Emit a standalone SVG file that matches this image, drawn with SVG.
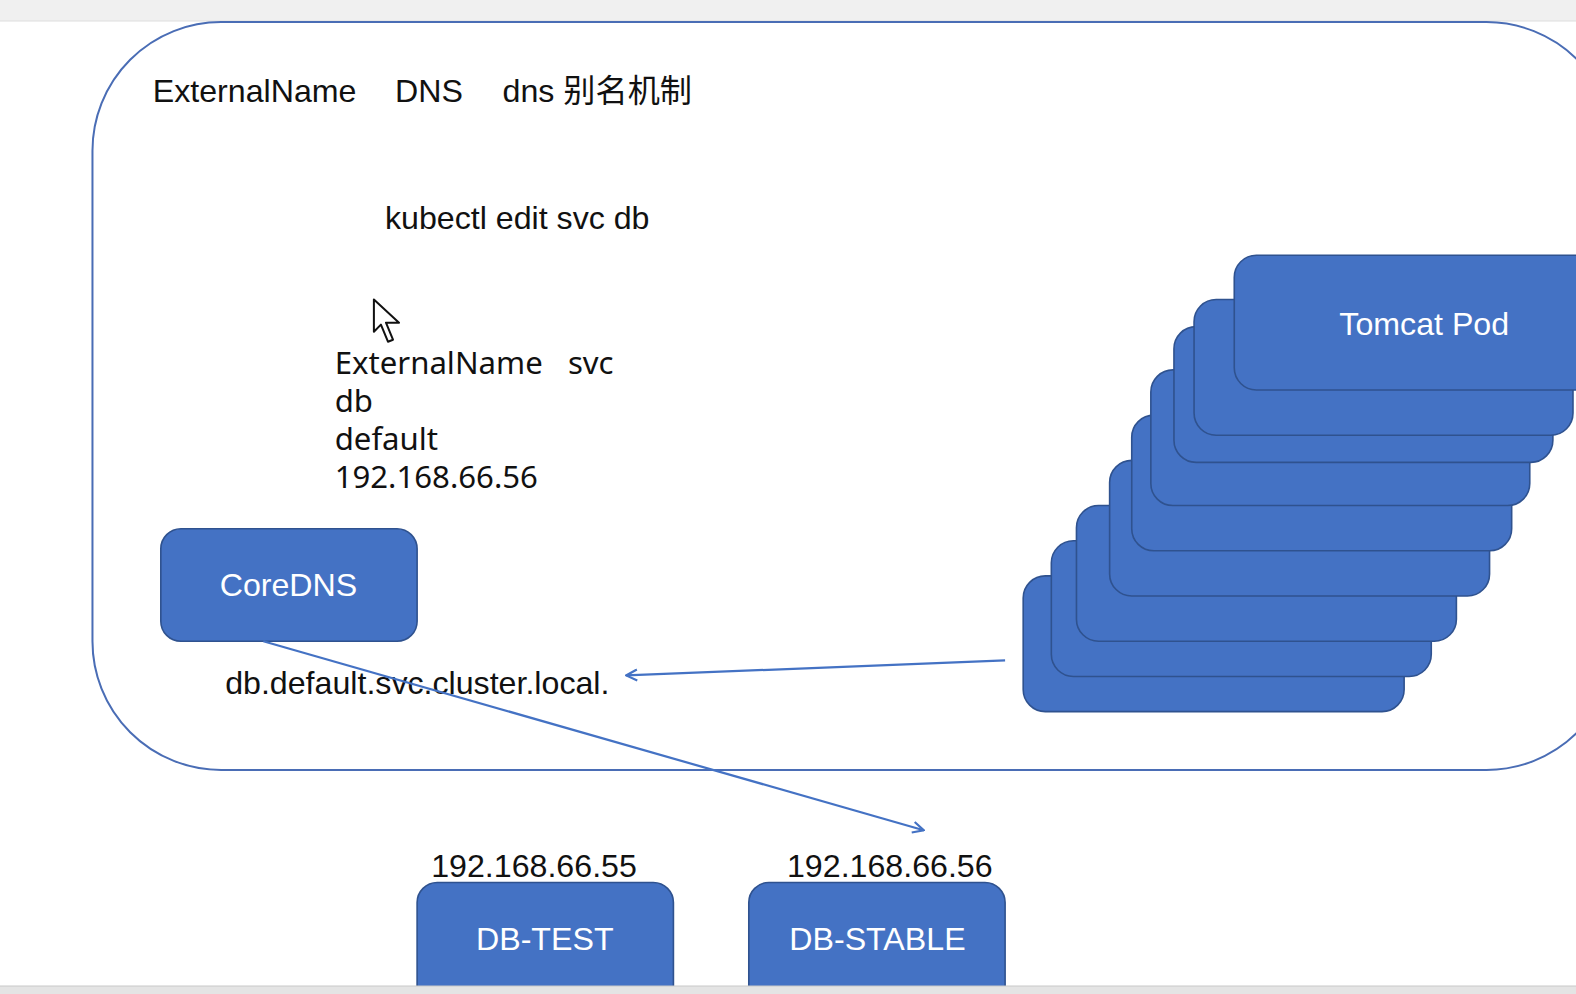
<svg xmlns="http://www.w3.org/2000/svg" width="1576" height="994" viewBox="0 0 1576 994">
<defs>
<style>
.t{font-family:"Liberation Sans",Arial,"Noto Sans CJK SC",sans-serif;font-size:32px;fill:#111}
.h{font-family:"Noto Sans","Noto Sans CJK SC",sans-serif;font-size:31px;fill:#111}
.w{font-family:"Liberation Sans",Arial,sans-serif;font-size:32px;fill:#fff;text-anchor:middle}
.box{fill:#4472C4;stroke:#2F528F;stroke-width:1.6}
.conn{fill:none;stroke:#4472C4;stroke-width:2.2}
</style>
<marker id="arr" viewBox="0 0 12 12" refX="11" refY="6" markerWidth="13" markerHeight="13" markerUnits="userSpaceOnUse" orient="auto">
<path d="M1,1 L11,6 L1,11" fill="none" stroke="#4472C4" stroke-width="2"/>
</marker>
</defs>
<rect x="0" y="0" width="1576" height="994" fill="#fff"/>
<rect x="0" y="0" width="1576" height="21" fill="#f0f0f0"/>
<line x1="0" y1="21" x2="1576" y2="21" stroke="#dedede" stroke-width="1"/>
<g transform="scale(1.0051)">
<g id="cluster">
<rect x="92" y="22" width="1515" height="744" rx="128" ry="128" fill="none" stroke="#4A6DB5" stroke-width="2"/>
</g>
<g id="titles">
<text class="t" x="152" y="101">ExternalName</text>
<text class="t" x="393" y="101">DNS</text>
<text class="t" x="500" y="101">dns 别名机制</text>
<text class="t" x="383" y="228">kubectl edit svc db</text>
</g>
<g id="notes">
<text class="h" x="333" y="372">ExternalName</text>
<text class="h" x="565" y="372">svc</text>
<text class="h" x="333" y="410">db</text>
<text class="h" x="333" y="448">default</text>
<text class="h" x="333" y="486">192.168.66.56</text>
</g>
<g id="cursor">
<path d="M372,298 L372,330 L379,323 L386,340 L391,338 L384,321 L397,321 Z" fill="#fff" stroke="#111" stroke-width="2" stroke-linejoin="round"/>
</g>
<g id="tomcat-pods">
<rect class="box" x="1018" y="573" width="379" height="135" rx="22"/>
<rect class="box" x="1046" y="538" width="378" height="135" rx="22"/>
<rect class="box" x="1071" y="503" width="378" height="135" rx="22"/>
<rect class="box" x="1104" y="458" width="378" height="135" rx="22"/>
<rect class="box" x="1126" y="413" width="378" height="135" rx="22"/>
<rect class="box" x="1145" y="368" width="377" height="135" rx="22"/>
<rect class="box" x="1168" y="325" width="377" height="135" rx="22"/>
<rect class="box" x="1188" y="298" width="377" height="135" rx="22"/>
<rect class="box" x="1228" y="254" width="378" height="134" rx="22"/>
<text class="w" x="1417" y="333">Tomcat Pod</text>
</g>
<g id="coredns">
<rect class="box" x="160" y="526" width="255" height="112" rx="20"/>
<text class="w" x="287" y="593">CoreDNS</text>
</g>
<g id="dns-name">
<text class="t" x="224" y="690">db.default.svc.cluster.local.</text>
</g>
<g id="connectors">
<line class="conn" x1="1000" y1="657" x2="623" y2="672" marker-end="url(#arr)"/>
<line class="conn" x1="262" y1="638" x2="919" y2="826" marker-end="url(#arr)"/>
</g>
<g id="db-test">
<text class="t" x="429" y="873">192.168.66.55</text>
<rect class="box" x="415" y="878" width="255" height="130" rx="20"/>
<text class="w" x="542" y="945">DB-TEST</text>
</g>
<g id="db-stable">
<text class="t" x="783" y="873">192.168.66.56</text>
<rect class="box" x="745" y="878" width="255" height="130" rx="20"/>
<text class="w" x="873" y="945">DB-STABLE</text>
</g>
</g>
<rect x="0" y="986" width="1576" height="8" fill="#e4e4e4"/>
<line x1="0" y1="986" x2="1576" y2="986" stroke="#c8c8c8" stroke-width="1"/>
</svg>
